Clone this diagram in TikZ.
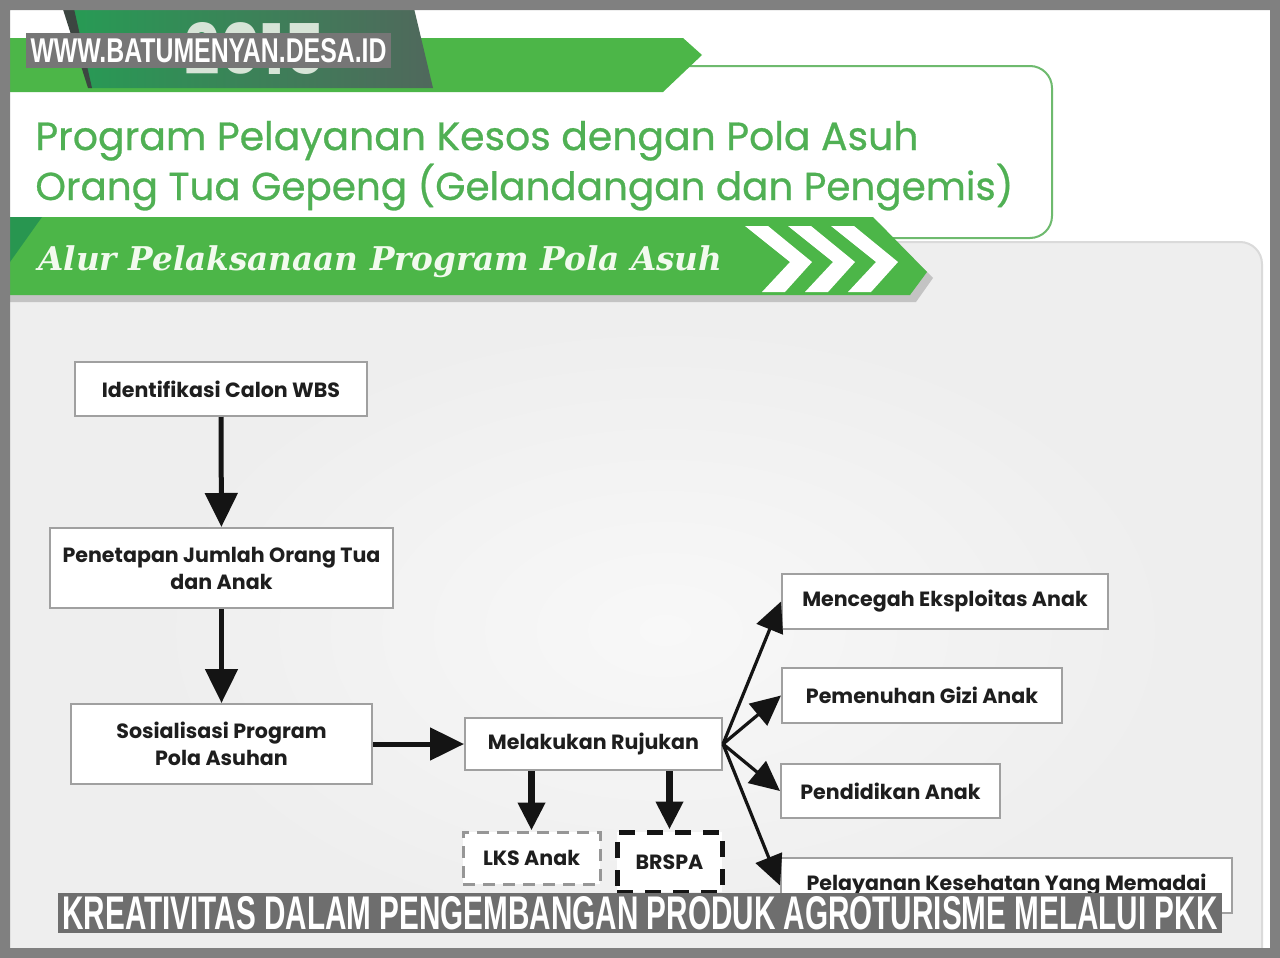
\documentclass[tikz,border=0pt]{standalone}
\usepackage{fontspec}
\usetikzlibrary{arrows.meta,calc}
\newfontfamily\popp{Poppins}
\newfontfamily\poppmed[FakeBold=0.7]{Poppins}
\newfontfamily\wmfont{Liberation Sans}
\newfontfamily\alurfont{DejaVu Serif}
\definecolor{framegray}{RGB}{128,128,128}
\definecolor{bandgreen}{RGB}{76,182,72}
\definecolor{banddark}{RGB}{40,150,80}
\definecolor{titlegreen}{RGB}{80,176,84}
\definecolor{boxgreen}{RGB}{110,186,110}
\definecolor{panelgray}{RGB}{238,238,238}
\definecolor{panelcenter}{RGB}{248,248,248}
\definecolor{paneledge}{RGB}{218,218,218}
\definecolor{boxborder}{RGB}{160,160,160}
\definecolor{dashgray}{RGB}{150,150,150}
\definecolor{ink}{RGB}{30,30,30}
\definecolor{arrowink}{RGB}{20,20,20}
\definecolor{wmgray}{RGB}{118,118,118}
\definecolor{wmgraydark}{RGB}{110,110,110}
\definecolor{tabL}{RGB}{38,156,84}
\definecolor{tabR}{RGB}{80,104,92}
\definecolor{tabedge}{RGB}{60,70,65}
\definecolor{yeartext}{RGB}{215,228,215}
\definecolor{alurwhite}{RGB}{242,250,238}
\begin{document}
\begin{tikzpicture}[x=0.5pt,y=-0.5pt,
  box/.style={draw=boxborder, line width=1pt, fill=white, text=ink,
    font=\popp\bfseries\fontsize{10.3}{13.5}\selectfont, align=center, inner sep=0pt},
  arrV/.style={draw=arrowink, line width=2.5pt, -{Triangle[length=17pt,width=16pt]}},
  arrD/.style={draw=arrowink, line width=3.5pt, -{Triangle[length=14pt,width=13pt]}},
  arrF/.style={draw=arrowink, line width=1.6pt, -{Triangle[length=15pt,width=14pt]}},
  wm/.style={fill=wmgray, inner sep=0pt, text=white}]
\useasboundingbox (0,0) rectangle (1280,958);
% background
\fill[white] (0,0) rectangle (1280,958);
% content panel
\fill[panelgray, draw=paneledge, line width=1pt, rounded corners=11pt]
  (-20,242) -- (1262,242) -- (1262,980) -- (-20,980) -- cycle;
\shade[inner color=panelcenter, outer color=panelgray] (150,320) rectangle (1180,940);
% title box
\draw[boxgreen, fill=white, line width=1pt, rounded corners=11pt] (-30,66) rectangle (1052,238);
\node[anchor=base west, inner sep=0pt, text=titlegreen] (t1) at (35,150)
  {\resizebox{441.5pt}{!}{\poppmed Program Pelayanan Kesos dengan Pola Asuh}};
\node[anchor=base west, inner sep=0pt, text=titlegreen] (t2) at (35,200)
  {\resizebox{489pt}{!}{\poppmed Orang Tua Gepeng (Gelandangan dan Pengemis)}};
% top green band and dark tab
\fill[bandgreen] (0,38) -- (683,38) -- (702,55) -- (663,92) -- (0,92) -- cycle;
\shade[left color=tabL, right color=tabR] (62,0) -- (412,0) -- (433,88) -- (90,88) -- cycle;
\fill[tabedge] (60,0) -- (72,0) -- (92,88) -- (88,88) -- cycle;
\node[inner sep=0pt, text=yeartext] (yr) at (255,48)
  {\resizebox{70pt}{26pt}{\popp\bfseries 2015}};
% second band
\fill[black, opacity=0.18] (0,223) -- (879,223) -- (933,278) -- (916,302) -- (0,302) -- cycle;
\fill[bandgreen] (0,217) -- (873,217) -- (927,272) -- (910,295) -- (0,295) -- cycle;
\fill[banddark] (0,217) -- (42,217) -- (10,262) -- (0,262) -- cycle;
\foreach \dx in {0,43,86}{
  \fill[white] (745+\dx,226) -- (768+\dx,226) -- (812+\dx,262) -- (785+\dx,292) -- (762+\dx,292) -- (790+\dx,262) -- cycle;
}
\node[anchor=base west, inner sep=0pt, text=alurwhite] (alur) at (38,270)
  {\resizebox{342pt}{!}{\alurfont\bfseries\itshape Alur Pelaksanaan Program Pola Asuh}};
% flowchart boxes
\node[box, minimum width=146pt, minimum height=27pt] (n1) at (221,389) {Identifikasi Calon WBS};
\node[box, minimum width=171.5pt, minimum height=40pt] (n2) at (221.5,568) {Penetapan Jumlah Orang Tua\\dan Anak};
\node[box, minimum width=150.5pt, minimum height=40pt] (n3) at (221.5,744) {Sosialisasi Program\\Pola Asuhan};
\node[box, minimum width=128.5pt, minimum height=26pt] (n4) at (593.5,744) {Melakukan Rujukan};
\node[box, minimum width=163pt, minimum height=27.5pt] (n5) at (945,601.5) {Mencegah Eksploitas Anak};
\node[box, minimum width=140pt, minimum height=27.5pt] (n6) at (922,695.5) {Pemenuhan Gizi Anak};
\node[box, minimum width=109.5pt, minimum height=27pt] (n7) at (890.5,791) {Pendidikan Anak};
\node[box, minimum width=225.5pt, minimum height=27.5pt] (n8) at (1006.5,885.5) {Pelayanan Kesehatan Yang Memadai};
\node[box, draw=dashgray, line width=1.5pt, dash pattern=on 6pt off 4pt,
  minimum width=68.5pt, minimum height=26pt] (lks) at (531.5,858) {LKS Anak};
\node[box, draw=arrowink, line width=2.5pt, dash pattern=on 8pt off 6pt,
  minimum width=52.5pt, minimum height=30pt] (brspa) at (669.5,862) {BRSPA};
% connectors
\draw[arrV] (n1) -- (n2);
\draw[arrV] (n2) -- (n3);
\draw[arrV] (n3) -- (n4);
\draw[arrD] (lks.north |- n4.south) -- (lks.north);
\draw[arrD] (brspa.north |- n4.south) -- (brspa.north);
\draw[arrF] (n4.east) -- (n5.west);
\draw[arrF] (n4.east) -- (n6.west);
\draw[arrF] (n4.east) -- (n7.west);
\draw[arrF] (n4.east) -- (n8.west);
% watermarks
\node[wm, minimum width=182.5pt, minimum height=17.5pt] (wm1) at (208.5,50.5)
  {\resizebox{178pt}{12pt}{\wmfont\bfseries WWW.BATUMENYAN.DESA.ID}};
\node[wm, fill=wmgraydark, minimum width=582pt, minimum height=20pt] (wm2) at (640,913)
  {\resizebox{577.5pt}{16.5pt}{\wmfont\bfseries KREATIVITAS DALAM PENGEMBANGAN PRODUK AGROTURISME MELALUI PKK}};
% frame
\fill[framegray, even odd rule] (0,0) rectangle (1280,958) (10,10) rectangle (1270,948);
\end{tikzpicture}
\end{document}
